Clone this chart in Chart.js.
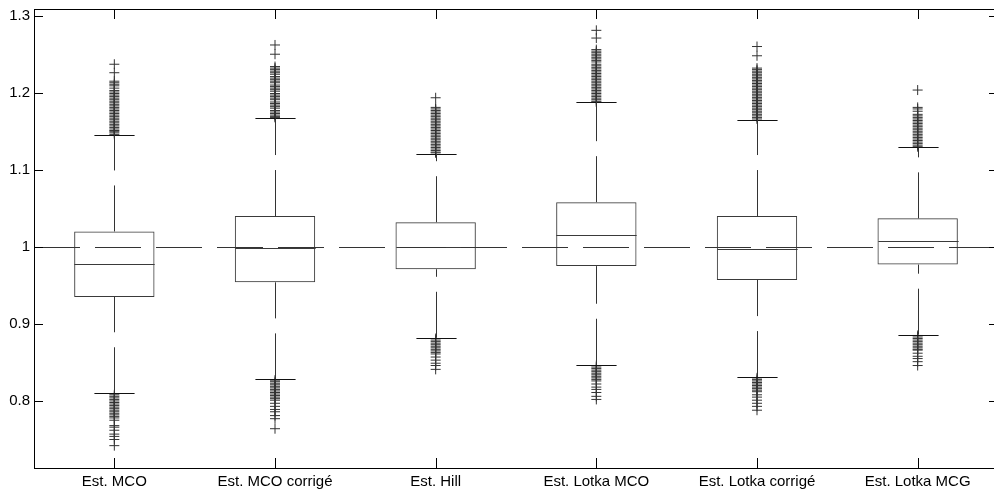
<!DOCTYPE html>
<html>
<head>
<meta charset="utf-8">
<script src="https://cdn.jsdelivr.net/npm/chart.js@4/dist/chart.umd.min.js"></script>
<style>
  html, body { margin: 0; background: #fff; overflow: hidden; }
</style>
</head>
<body>
<canvas id="c" width="998" height="491"></canvas>
<script>
const categories = ["Est. MCO", "Est. MCO corrigé", "Est. Hill", "Est. Lotka MCO", "Est. Lotka corrigé", "Est. Lotka MCG"];
const q1 = [0.935, 0.954, 0.971, 0.975, 0.957, 0.977];
const median = [0.978, 0.999, 1.000, 1.015, 0.997, 1.007];
const q3 = [1.020, 1.040, 1.032, 1.058, 1.040, 1.037];
const lowerWhisker = [0.810, 0.828, 0.882, 0.847, 0.831, 0.886];
const upperWhisker = [1.145, 1.167, 1.121, 1.188, 1.165, 1.129];
const refValue = 1;
const yTicks = [0.8, 0.9, 1, 1.1, 1.2, 1.3];

const outliersMCO = [1.237, 1.226, 1.215, 1.213, 1.211, 1.209, 1.206, 1.203, 1.201, 1.199, 1.197, 1.195, 1.193, 1.191, 1.189, 1.187, 1.185, 1.183, 1.181, 1.179, 1.177, 1.175, 1.173, 1.171, 1.169, 1.167, 1.165, 1.163, 1.161, 1.159, 1.157, 1.155, 1.153, 1.151, 1.150, 1.148, 1.146,
  0.808, 0.806, 0.804, 0.802, 0.800, 0.798, 0.796, 0.794, 0.792, 0.790, 0.788, 0.786, 0.784, 0.782, 0.780, 0.778, 0.775, 0.768, 0.766, 0.762, 0.757, 0.754, 0.750, 0.742];
const outliersMCOcorr = [1.262, 1.250, 1.234, 1.232, 1.230, 1.228, 1.226, 1.224, 1.221, 1.219, 1.217, 1.215, 1.213, 1.210, 1.208, 1.206, 1.204, 1.202, 1.199, 1.197, 1.195, 1.193, 1.191, 1.188, 1.186, 1.184, 1.182, 1.180, 1.177, 1.175, 1.173, 1.171, 1.169, 1.168,
  0.827, 0.825, 0.823, 0.821, 0.819, 0.817, 0.815, 0.813, 0.811, 0.809, 0.807, 0.805, 0.803, 0.801, 0.797, 0.793, 0.789, 0.786, 0.781, 0.777, 0.764];
const outliersHill = [1.1935, 1.181, 1.179, 1.177, 1.175, 1.173, 1.171, 1.169, 1.167, 1.165, 1.163, 1.161, 1.159, 1.157, 1.155, 1.153, 1.151, 1.149, 1.147, 1.145, 1.143, 1.141, 1.139, 1.137, 1.135, 1.133, 1.131, 1.129, 1.127, 1.125, 1.123, 1.122,
  0.881, 0.879, 0.877, 0.875, 0.873, 0.871, 0.869, 0.867, 0.865, 0.863, 0.861, 0.857, 0.853, 0.849, 0.846, 0.841];
const outliersLotkaMCO = [1.281, 1.271, 1.256, 1.254, 1.252, 1.250, 1.248, 1.246, 1.244, 1.242, 1.240, 1.237, 1.235, 1.233, 1.231, 1.229, 1.227, 1.225, 1.223, 1.221, 1.219, 1.217, 1.215, 1.213, 1.211, 1.209, 1.207, 1.205, 1.203, 1.201, 1.199, 1.197, 1.195, 1.193, 1.191, 1.189, 1.188,
  0.846, 0.844, 0.842, 0.840, 0.838, 0.836, 0.834, 0.832, 0.830, 0.828, 0.826, 0.822, 0.818, 0.815, 0.811, 0.806, 0.802];
const outliersLotkaCorr = [1.260, 1.248, 1.232, 1.230, 1.228, 1.226, 1.224, 1.222, 1.220, 1.218, 1.216, 1.214, 1.212, 1.210, 1.208, 1.206, 1.204, 1.202, 1.200, 1.198, 1.196, 1.194, 1.192, 1.190, 1.188, 1.186, 1.184, 1.182, 1.180, 1.178, 1.176, 1.174, 1.172, 1.170, 1.168, 1.166,
  0.830, 0.828, 0.826, 0.824, 0.822, 0.820, 0.818, 0.816, 0.814, 0.812, 0.808, 0.805, 0.801, 0.797, 0.793, 0.788];
const outliersLotkaMCG = [1.2035, 1.181, 1.179, 1.176, 1.172, 1.170, 1.168, 1.166, 1.164, 1.162, 1.160, 1.158, 1.156, 1.154, 1.152, 1.150, 1.148, 1.146, 1.144, 1.142, 1.140, 1.138, 1.136, 1.134, 1.132, 1.130,
  0.885, 0.883, 0.881, 0.879, 0.877, 0.875, 0.873, 0.871, 0.869, 0.867, 0.866, 0.862, 0.858, 0.855, 0.851, 0.846];

const outliers = [outliersMCO, outliersMCOcorr, outliersHill, outliersLotkaMCO, outliersLotkaCorr, outliersLotkaMCG];
const outlierPoints = [];
outliers.forEach((vals, i) => vals.forEach(v => outlierPoints.push({ x: categories[i], y: v })));

const labelFont = { family: "'Liberation Sans', Arial, sans-serif", size: 15 };

// whiskers, caps, medians, reference line, frame and inside ticks
const boxParts = {
  id: "boxParts",
  afterDatasetsDraw(chart) {
    const { ctx, scales: { x, y }, chartArea: a } = chart;
    const step = x.getPixelForValue(1) - x.getPixelForValue(0);
    ctx.save();
    ctx.lineWidth = 1;
    categories.forEach((c, i) => {
      const cx = Math.round(x.getPixelForValue(i)) + 0.5;
      const half = step / 4;
      // median
      ctx.strokeStyle = "#3a3a3a";
      ctx.setLineDash([]);
      const my = Math.round(y.getPixelForValue(median[i])) + 0.5;
      ctx.beginPath();
      ctx.moveTo(cx - half, my);
      ctx.lineTo(cx + half, my);
      ctx.stroke();
      // caps
      ctx.strokeStyle = "#111";
      [lowerWhisker[i], upperWhisker[i]].forEach(v => {
        const wy = Math.round(y.getPixelForValue(v)) + 0.5;
        ctx.beginPath();
        ctx.moveTo(cx - step / 8, wy);
        ctx.lineTo(cx + step / 8, wy);
        ctx.stroke();
      });
      // whiskers (dashed, drawn upward)
      ctx.strokeStyle = "#333";
      ctx.setLineDash([46, 15]);
      ctx.beginPath();
      ctx.moveTo(cx, y.getPixelForValue(lowerWhisker[i]));
      ctx.lineTo(cx, y.getPixelForValue(q1[i]));
      ctx.stroke();
      ctx.beginPath();
      ctx.moveTo(cx, y.getPixelForValue(q3[i]));
      ctx.lineTo(cx, y.getPixelForValue(upperWhisker[i]));
      ctx.stroke();
    });
    // reference line
    const ry = Math.round(y.getPixelForValue(refValue)) + 0.5;
    ctx.strokeStyle = "#333";
    ctx.setLineDash([46, 15]);
    ctx.beginPath();
    ctx.moveTo(a.left, ry);
    ctx.lineTo(a.right, ry);
    ctx.stroke();
    ctx.setLineDash([]);
    // frame
    ctx.strokeStyle = "#000";
    ctx.strokeRect(a.left + 0.5, a.top + 0.5, a.right - a.left - 1, a.bottom - a.top);
    // inside ticks
    ctx.beginPath();
    yTicks.forEach(v => {
      const ty = Math.round(y.getPixelForValue(v)) + 0.5;
      ctx.moveTo(a.left, ty); ctx.lineTo(a.left + 9, ty);
      ctx.moveTo(a.right, ty); ctx.lineTo(a.right - 9, ty);
    });
    categories.forEach((c, i) => {
      const tx = Math.round(x.getPixelForValue(i)) + 0.5;
      ctx.moveTo(tx, a.top); ctx.lineTo(tx, a.top + 10);
      ctx.moveTo(tx, a.bottom); ctx.lineTo(tx, a.bottom - 10);
    });
    ctx.stroke();
    ctx.restore();
  }
};

new Chart(document.getElementById("c"), {
  type: "bar",
  data: {
    labels: categories,
    datasets: [
      {
        type: "bar",
        data: categories.map((c, i) => [q1[i], q3[i]]),
        backgroundColor: "rgba(255,255,255,0)",
        borderColor: "#3a3a3a",
        borderWidth: 1,
        borderSkipped: false,
        barPercentage: 0.5,
        categoryPercentage: 1,
        order: 2
      },
      {
        type: "line",
        data: outlierPoints,
        showLine: false,
        pointStyle: "cross",
        pointRadius: 5,
        pointBorderWidth: 1,
        pointBorderColor: "#333",
        clip: false,
        order: 1
      }
    ]
  },
  options: {
    responsive: false,
    animation: false,
    layout: { autoPadding: false, padding: { top: 9, right: 0, left: 0, bottom: 0 } },
    plugins: { legend: { display: false }, tooltip: { enabled: false } },
    scales: {
      x: {
        offset: true,
        grid: { display: false, drawTicks: false },
        border: { display: false },
        ticks: { font: labelFont, color: "#000", padding: 5, maxRotation: 0 },
        afterFit(s) { s.height = 23; s.paddingLeft = 0; s.paddingRight = 0; }
      },
      y: {
        min: 0.713,
        max: 1.3087,
        grid: { display: false, drawTicks: false },
        border: { display: false },
        afterBuildTicks(s) { s.ticks = yTicks.map(v => ({ value: v })); },
        ticks: { font: labelFont, color: "#000", padding: 4, callback: v => String(v) },
        afterFit(s) { s.width = 34; s.paddingTop = 0; s.paddingBottom = 0; }
      }
    }
  },
  plugins: [boxParts]
});
</script>
</body>
</html>
